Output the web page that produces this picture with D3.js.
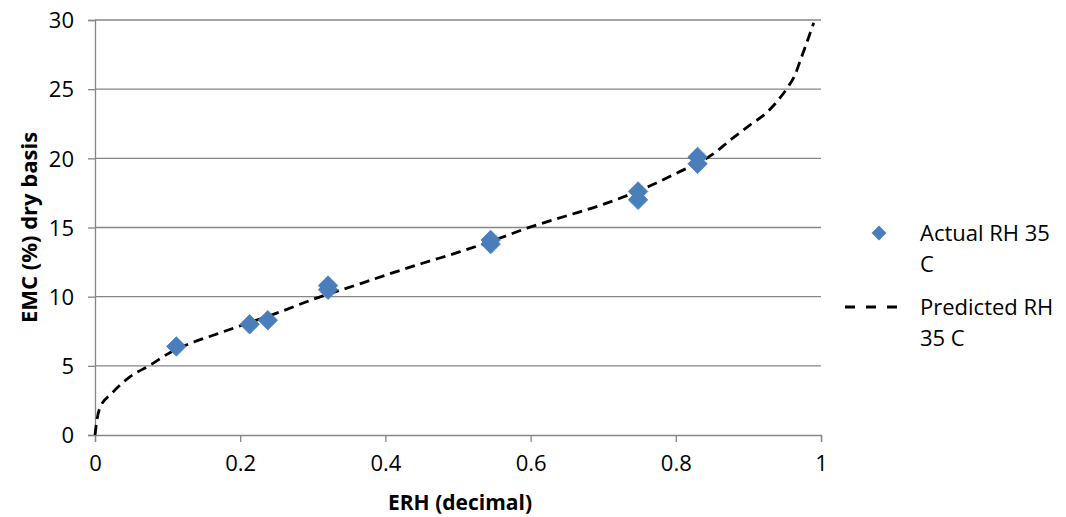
<!DOCTYPE html>
<html>
<head>
<meta charset="utf-8">
<script src="https://cdn.jsdelivr.net/npm/d3@7"></script>
<style>
  body { margin: 0; background: #fff; }
  text { font-family: "Open Sans", "Noto Sans", sans-serif; fill: #000; }
</style>
</head>
<body>
<script>
// measured points, Actual RH 35 C
var actualErh = [0.112, 0.213, 0.238, 0.321, 0.321, 0.545, 0.545, 0.748, 0.748, 0.830, 0.830];
var actualEmc = [6.4, 8.0, 8.3, 10.5, 10.8, 14.1, 13.8, 17.6, 17.0, 20.1, 19.6];

// predicted curve, Predicted RH 35 C
var predErh = [0, 0.003, 0.007, 0.023, 0.048, 0.076, 0.103, 0.135, 0.165, 0.195, 0.255, 0.30, 0.369,
               0.40, 0.45, 0.503, 0.548, 0.595, 0.65, 0.696, 0.764, 0.80, 0.851, 0.877, 0.902, 0.925,
               0.944, 0.955, 0.964, 0.971, 0.98, 0.99];
var predEmc = [0, 1.2, 2.0, 3.0, 4.2, 5.05, 5.95, 6.7, 7.25, 7.8, 8.9, 9.8, 11.0,
               11.55, 12.4, 13.25, 14.05, 14.95, 15.85, 16.6, 18.0, 18.9, 20.3, 21.4, 22.4, 23.3,
               24.4, 25.2, 26.0, 27.0, 28.3, 29.8];

var xTicks = [0, 0.2, 0.4, 0.6, 0.8, 1];
var yTicks = [0, 5, 10, 15, 20, 25, 30];
var legendNames = [["Actual RH 35", "C"], ["Predicted RH", "35 C"]];

var width = 1066, height = 517;
var plotLeft = 95, plotRight = 821, plotTop = 20, plotBottom = 435;
var gridColor = "#868686", blue = "#4a7ebb";

var svg = d3.select("body").append("svg")
    .attr("width", width)
    .attr("height", height);

var x = d3.scaleLinear().domain([0, 1]).range([plotLeft, plotRight]);
var y = d3.scaleLinear().domain([0, 30]).range([plotBottom, plotTop]);

// horizontal gridlines
svg.append("g").selectAll("line")
  .data(yTicks.filter(function (d) { return d > 0; }))
  .enter().append("line")
  .attr("x1", plotLeft).attr("x2", plotRight)
  .attr("y1", function (d) { return y(d); })
  .attr("y2", function (d) { return y(d); })
  .attr("stroke", gridColor).attr("stroke-width", 1.3);

var xAxis = svg.append("g")
    .attr("transform", "translate(0," + plotBottom + ")")
    .call(d3.axisBottom(x).tickValues(xTicks).tickSize(7).tickPadding(13)
      .tickFormat(function (d) { return d3.format("~g")(d); }));

var yAxis = svg.append("g")
    .attr("transform", "translate(" + plotLeft + ",0)")
    .call(d3.axisLeft(y).tickValues(yTicks).tickSize(7).tickPadding(14));

[xAxis, yAxis].forEach(function (g) {
  g.select(".domain").attr("stroke", gridColor).attr("stroke-width", 1.3);
  g.selectAll(".tick line").attr("stroke", gridColor).attr("stroke-width", 1.3);
  g.selectAll(".tick text").attr("font-size", 22).attr("font-family", null).attr("fill", "#000");
});
yAxis.selectAll(".tick text").attr("dy", "0.35em");

// axis titles
svg.append("text")
  .attr("x", (plotLeft + plotRight) / 2 + 2).attr("y", 510)
  .attr("text-anchor", "middle")
  .attr("font-size", 21).attr("font-weight", "bold")
  .text("ERH (decimal)");

svg.append("text")
  .attr("transform", "translate(37," + ((plotTop + plotBottom) / 2) + ") rotate(-90)")
  .attr("text-anchor", "middle")
  .attr("font-size", 22).attr("font-weight", "bold")
  .text("EMC (%) dry basis");

// predicted line
var line = d3.line()
    .x(function (d) { return x(d[0]); })
    .y(function (d) { return y(d[1]); })
    .curve(d3.curveMonotoneX);

svg.append("path")
  .datum(d3.zip(predErh, predEmc))
  .attr("d", line)
  .attr("fill", "none")
  .attr("stroke", "#000")
  .attr("stroke-width", 2.8)
  .attr("stroke-dasharray", "10,6");

// actual points as diamonds
var diamond = d3.symbol().type(d3.symbolSquare).size(190);

svg.append("g").selectAll("path")
  .data(d3.zip(actualErh, actualEmc))
  .enter().append("path")
  .attr("d", diamond)
  .attr("transform", function (d) { return "translate(" + x(d[0]) + "," + y(d[1]) + ") rotate(45)"; })
  .attr("fill", blue)
  .attr("stroke", "#4f81bd")
  .attr("stroke-width", 0.8);

// legend
var legend = svg.append("g");
legend.append("path")
  .attr("d", d3.symbol().type(d3.symbolSquare).size(110))
  .attr("transform", "translate(879,233) rotate(45)")
  .attr("fill", blue);

legend.append("line")
  .attr("x1", 845).attr("x2", 901)
  .attr("y1", 307).attr("y2", 307)
  .attr("stroke", "#000").attr("stroke-width", 2.8)
  .attr("stroke-dasharray", "10,11");

var legendY = [241, 315];
legendNames.forEach(function (lines, i) {
  lines.forEach(function (t, j) {
    legend.append("text")
      .attr("x", 920).attr("y", legendY[i] + j * 31)
      .attr("font-size", 22)
      .text(t);
  });
});
</script>
</body>
</html>
